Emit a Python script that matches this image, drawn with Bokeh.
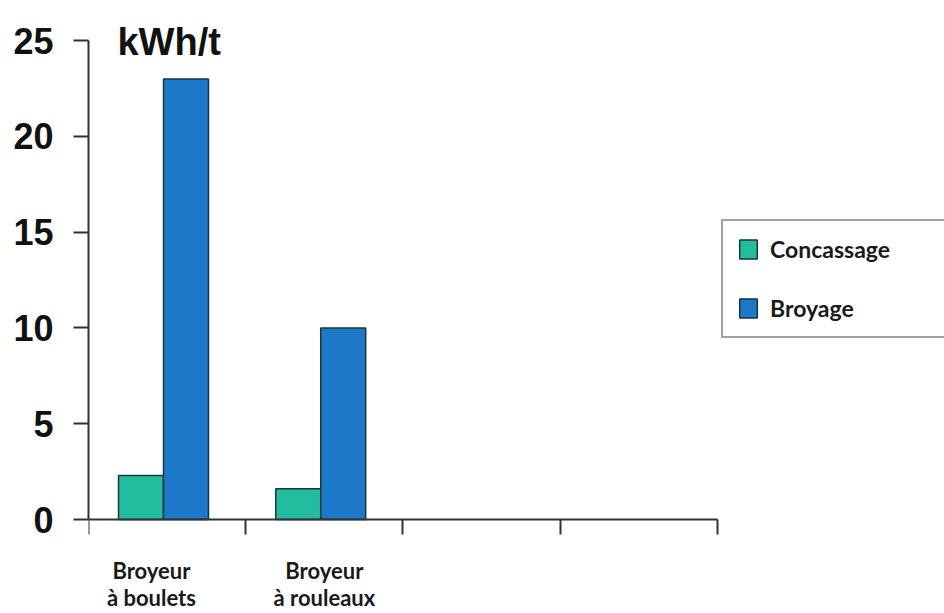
from bokeh.plotting import figure
from bokeh.models import ColumnDataSource, Range1d, FixedTicker, Label, Legend, LegendItem
from bokeh.transform import dodge
from bokeh.embed import file_html
from bokeh.resources import INLINE

# ---- data ----
categories = ["Broyeur\nà boulets", "Broyeur\nà rouleaux"]
concassage = [2.3, 1.6]
broyage = [23, 10]
series_names = ["Concassage", "Broyage"]
y_ticks = [0, 5, 10, 15, 20, 25]
unit_label = "kWh/t"
n_slots = 4

# ---- style ----
TEAL = "#24bc9e"
BLUE = "#1c79c9"
EDGE = "#1d3340"
AXIS = "#333333"

idx = list(range(len(categories)))
src = ColumnDataSource(dict(idx=idx, concassage=concassage, broyage=broyage))

p = figure(width=944, height=613, output_backend="svg", toolbar_location=None,
           x_range=Range1d(0, 5.444), y_range=Range1d(-4.906, 26.57),
           min_border_left=88, min_border_right=0, min_border_top=10, min_border_bottom=0)
p.outline_line_color = None
p.xgrid.visible = False
p.ygrid.visible = False
p.background_fill_color = "white"
p.border_fill_color = "white"

bw = 0.286
r1 = p.vbar(x=dodge("idx", 0.334, range=p.x_range), top="concassage", width=bw, bottom=0,
            source=src, fill_color=TEAL, line_color=EDGE, line_width=1.5)
r2 = p.vbar(x=dodge("idx", 0.620, range=p.x_range), top="broyage", width=bw, bottom=0,
            source=src, fill_color=BLUE, line_color=EDGE, line_width=1.5)

# y axis
ya = p.yaxis[0]
ya.ticker = FixedTicker(ticks=y_ticks)
ya.bounds = (0, y_ticks[-1])
ya.axis_line_color = AXIS
ya.axis_line_width = 2
ya.major_tick_line_color = AXIS
ya.major_tick_line_width = 2
ya.major_tick_out = 15
ya.major_tick_in = 0
ya.minor_tick_line_color = None
ya.major_label_standoff = 20
ya.major_label_text_font = "Liberation Sans"
ya.major_label_text_font_style = "bold"
ya.major_label_text_font_size = "36px"
ya.major_label_text_color = "#111111"

# x axis sits at y = 0; minor ticks at slot borders, labels at group centres
xa = p.xaxis[0]
xa.fixed_location = 0
label_pos = [0.40, 1.5]
xa.ticker = FixedTicker(ticks=label_pos, minor_ticks=list(range(n_slots + 1)))
xa.major_label_overrides = {pos: c for pos, c in zip(label_pos, categories)}
xa.bounds = (0, n_slots)
xa.axis_line_color = AXIS
xa.axis_line_width = 2
xa.major_tick_line_color = None
xa.major_tick_out = 0
xa.major_tick_in = 0
xa.minor_tick_line_color = AXIS
xa.minor_tick_line_width = 2
xa.minor_tick_out = 15
xa.minor_tick_in = 0
xa.major_label_standoff = 22
xa.major_label_text_font = "Lato"
xa.major_label_text_font_style = "bold"
xa.major_label_text_font_size = "22px"
xa.major_label_text_color = "#1a1a1a"
xa.major_label_text_line_height = 1.0

# unit label
p.add_layout(Label(x=0.184, y=24.9, text=unit_label, text_font="Liberation Sans",
                   text_font_style="bold", text_font_size="38px", text_color="#111111",
                   text_baseline="alphabetic", text_align="left"))

legend = Legend(items=[LegendItem(label=series_names[0], renderers=[r1]),
                       LegendItem(label=series_names[1], renderers=[r2])],
                location=(633, 275))
legend.border_line_color = "#444444"
legend.border_line_width = 2
legend.background_fill_color = "white"
legend.padding = 14
legend.margin = 0
legend.spacing = 31
legend.glyph_width = 22
legend.glyph_height = 24
legend.label_height = 24
legend.label_width = 200
legend.label_standoff = 11
legend.label_text_font = "Lato"
legend.label_text_font_style = "bold"
legend.label_text_font_size = "23px"
legend.label_text_color = "#1a1a1a"
p.add_layout(legend, "center")

open("out.html", "w").write(file_html(p, INLINE))
